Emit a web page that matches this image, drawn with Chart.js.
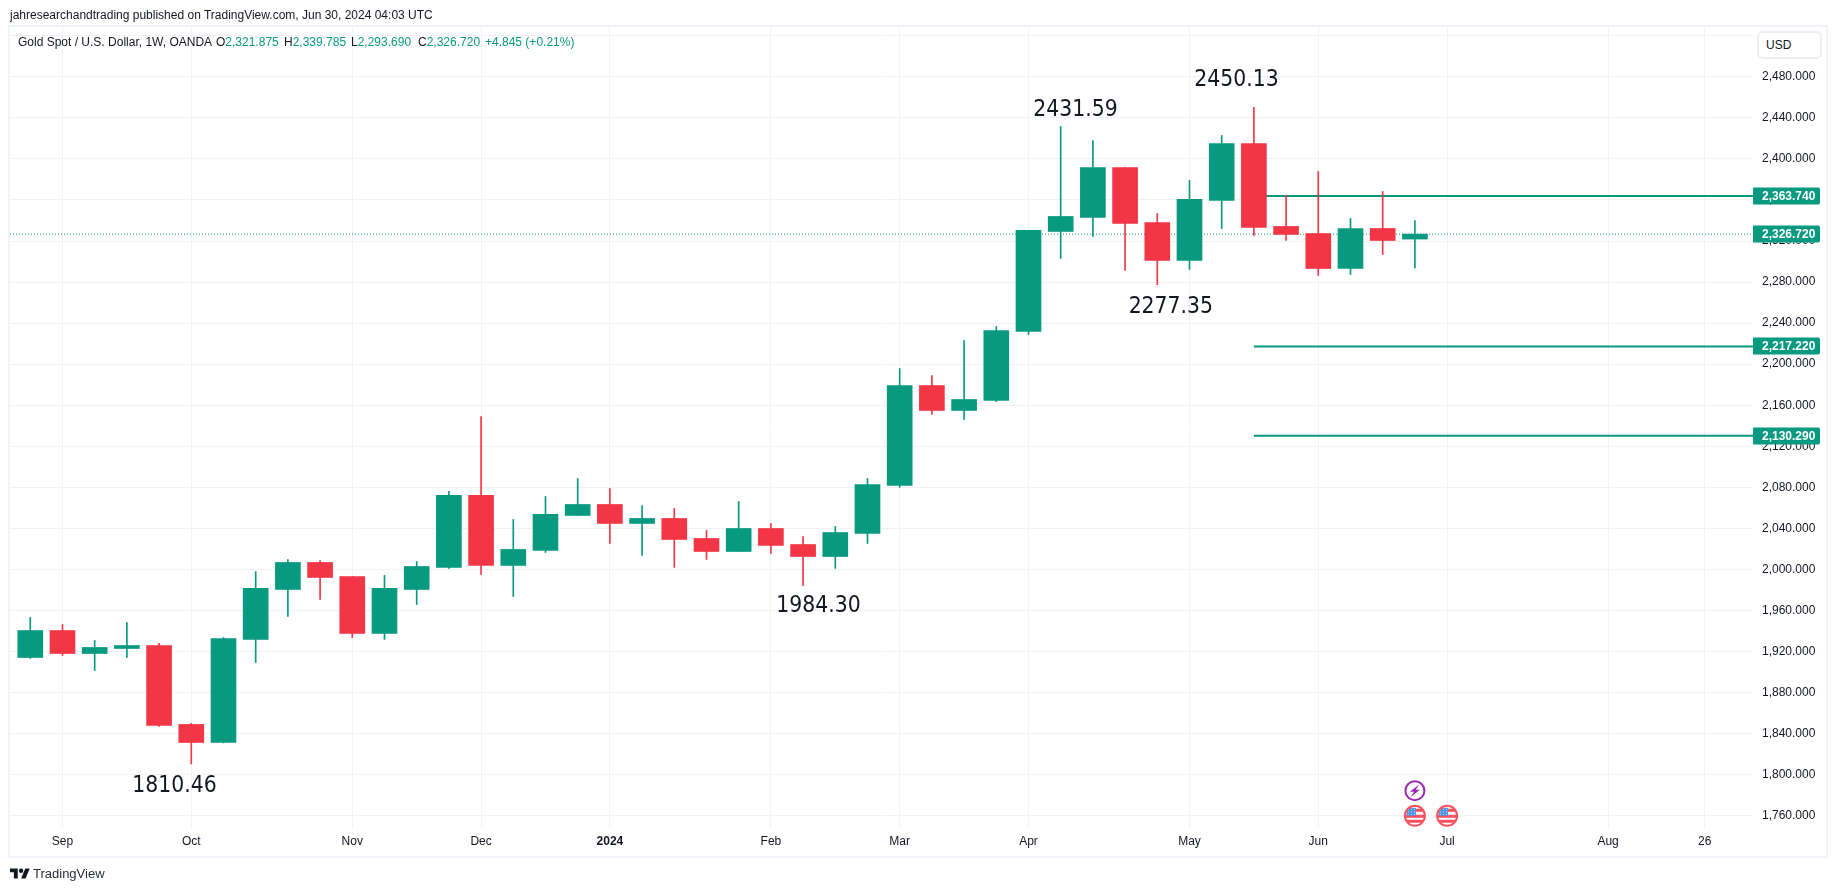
<!DOCTYPE html>
<html>
<head>
<meta charset="utf-8">
<title>Gold Spot / U.S. Dollar</title>
<script src="https://cdn.jsdelivr.net/npm/chart.js@4/dist/chart.umd.min.js"></script>
<style>
    html, body { margin: 0; padding: 0; background: #fff; width: 1835px; height: 891px; overflow: hidden; }
    body { font: 12px "Liberation Sans", sans-serif; color: #131722; position: relative; }
    #frame { position: absolute; left: 8px; top: 25px; width: 1816px; height: 829px; border: 2px solid #f0f3fa; }
    canvas { position: absolute; left: 0; top: 0; }
    .abs { position: absolute; white-space: nowrap; line-height: 14px; }
    .val { color: #089981; }
    #usd { left: 1757px; top: 31px; width: 61px; height: 24px; border: 2px solid #eceef4; border-radius: 6px; box-sizing: content-box; line-height: 24px; text-indent: 7px; background: #fff; }
    #tvname { left: 33px; top: 866px; font-size: 13px; line-height: 16px; color: #2a2e39; }
    #tvlogo { position: absolute; left: 10px; top: 866px; }
</style>
</head>
<body>
<div id="frame"></div>
<canvas id="chart" width="1835" height="891"></canvas>
<div class="abs" style="left:10px;top:8px">jahresearchandtrading published on TradingView.com, Jun 30, 2024 04:03 UTC</div>
<div class="abs" style="left:18px;top:35px">Gold Spot / U.S. Dollar, 1W, OANDA</div>
<div class="abs" style="left:216px;top:35px">O<span class="val">2,321.875</span></div>
<div class="abs" style="left:284px;top:35px">H<span class="val">2,339.785</span></div>
<div class="abs" style="left:351px;top:35px">L<span class="val">2,293.690</span></div>
<div class="abs" style="left:418px;top:35px">C<span class="val">2,326.720</span></div>
<div class="abs val" style="left:485px;top:35px">+4.845 (+0.21%)</div>
<div class="abs" id="usd">USD</div>
<svg id="tvlogo" width="20" height="16" viewBox="0 0 36 28"><path fill="#131722" d="M14 22H7V11H0V4h14v18zM28 22h-8l7.5-18h8L28 22z"/><circle fill="#131722" cx="20" cy="8" r="4"/></svg>
<div class="abs" id="tvname">TradingView</div>
<script>
// weekly candles
const opens = [1914.2, 1940.5, 1918.1, 1923.0, 1925.9, 1849.0, 1831.4, 1931.8, 1980.5, 2006.8, 1993.0, 1937.6, 1980.5, 2002.0, 2072.1, 2003.9, 2018.5, 2052.6, 2063.3, 2044.8, 2049.7, 2030.2, 2017.5, 2039.9, 2024.3, 2012.6, 2035.0, 2081.8, 2179.2, 2154.9, 2164.6, 2231.9, 2329.3, 2342.9, 2391.6, 2338.0, 2301.0, 2359.5, 2415.0, 2334.2, 2327.3, 2293.2, 2332.2, 2321.875];
const highs = [1953.2, 1946.4, 1930.8, 1948.3, 1927.9, 1850.0, 1933.7, 1998.0, 2009.7, 2008.7, 1993.2, 1994.2, 2007.8, 2076.0, 2149.0, 2048.7, 2071.1, 2088.6, 2078.9, 2062.3, 2059.4, 2038.0, 2066.2, 2044.8, 2032.1, 2041.9, 2088.6, 2195.8, 2189.0, 2223.1, 2236.7, 2330.3, 2431.59, 2417.9, 2391.6, 2346.8, 2379.0, 2422.8, 2450.13, 2364.4, 2387.7, 2341.9, 2368.2, 2339.785];
const lows = [1913.3, 1916.2, 1901.6, 1914.2, 1847.0, 1810.46, 1831.0, 1909.4, 1954.2, 1970.8, 1933.7, 1931.8, 1965.9, 2001.0, 1995.1, 1973.7, 2016.5, 2052.6, 2025.3, 2013.6, 2002.0, 2009.7, 2017.5, 2015.6, 1984.3, 2001.0, 2025.3, 2079.9, 2151.0, 2146.1, 2163.6, 2228.9, 2303.0, 2324.4, 2291.3, 2277.35, 2292.3, 2332.2, 2325.4, 2320.5, 2286.4, 2287.4, 2306.9, 2293.69];
const closes = [1940.5, 1918.1, 1924.0, 1925.9, 1848.0, 1831.4, 1932.7, 1981.5, 2006.8, 1992.2, 1937.6, 1981.5, 2002.9, 2072.1, 2003.9, 2019.5, 2053.6, 2063.3, 2044.8, 2049.7, 2029.2, 2017.5, 2039.9, 2023.4, 2012.6, 2036.0, 2082.8, 2179.2, 2154.9, 2165.6, 2232.8, 2330.3, 2343.9, 2391.6, 2337.1, 2301.0, 2360.5, 2415.0, 2333.2, 2326.4, 2293.2, 2332.2, 2320.5, 2326.72];

const timeTickWeeks = [1, 5, 10, 14, 18, 23, 27, 31, 36, 40, 44, 49, 52];
const timeTickLabels = ['Sep', 'Oct', 'Nov', 'Dec', '2024', 'Feb', 'Mar', 'Apr', 'May', 'Jun', 'Jul', 'Aug', '26'];
const priceTicks = [1760, 1800, 1840, 1880, 1920, 1960, 2000, 2040, 2080, 2120, 2160, 2200, 2240, 2280, 2320, 2360, 2400, 2440, 2480, 2520];

const lastPrice = 2326.72;
const levels = [2363.74, 2217.22, 2130.29];
const levelStartWeek = 38;

const noteTexts = ['2431.59', '2450.13', '2277.35', '1984.30', '1810.46'];
const noteWeeks = [32.46, 37.46, 35.42, 24.48, 4.48];
const notePrices = [2448, 2476.5, 2255.4, 1964.7, 1788.7];

const usEventWeeks = [43, 44];
const usEventPrice = 1760;
const splitEventWeek = 43;
const splitEventPrice = 1784.5;

const xMin = -0.63;
const xMax = 53.5;
const yMin = 1748.1;
const yMax = 2528.5;

const green = '#089981';
const red = '#f23645';
const font = '"Liberation Sans", sans-serif';
const noteFont = '22.7px "DejaVu Sans Condensed", "DejaVu Sans", sans-serif';

function formatPrice(v) {
    return v.toLocaleString('en-US', { minimumFractionDigits: 3, maximumFractionDigits: 3 });
}

function candleColors() {
    return closes.map((c, i) => c >= opens[i] ? green : red);
}

function drawFlag(ctx, x, y) {
    ctx.save();
    ctx.beginPath();
    ctx.arc(x, y, 10, 0, 2 * Math.PI);
    ctx.fillStyle = '#fff';
    ctx.fill();
    ctx.clip();
    ctx.fillStyle = '#f7525f';
    ctx.fillRect(x - 10, y - 7, 20, 3);
    ctx.fillRect(x - 10, y - 1, 20, 3);
    ctx.fillRect(x - 10, y + 4, 20, 3);
    ctx.fillStyle = '#4a90e2';
    ctx.fillRect(x - 8, y - 8, 9, 8);
    ctx.fillStyle = '#cfe3fb';
    for (let i = 0; i < 3; i++) {
        for (let j = 0; j < 3; j++) {
            ctx.fillRect(x - 7 + i * 3, y - 7 + j * 2.5, 1, 1);
        }
    }
    ctx.restore();
    ctx.beginPath();
    ctx.arc(x, y, 10, 0, 2 * Math.PI);
    ctx.strokeStyle = '#f7525f';
    ctx.lineWidth = 2;
    ctx.stroke();
}

function drawBolt(ctx, x, y) {
    ctx.beginPath();
    ctx.arc(x, y, 9.5, 0, 2 * Math.PI);
    ctx.fillStyle = '#fff';
    ctx.fill();
    ctx.strokeStyle = '#9c27b0';
    ctx.lineWidth = 2;
    ctx.stroke();
    ctx.beginPath();
    ctx.moveTo(x + 4.5, y - 6.5);
    ctx.lineTo(x - 5, y + 1);
    ctx.lineTo(x - 0.8, y + 1);
    ctx.lineTo(x - 4.5, y + 6.5);
    ctx.lineTo(x + 5, y - 1);
    ctx.lineTo(x + 0.8, y - 1);
    ctx.closePath();
    ctx.fillStyle = '#9c27b0';
    ctx.fill();
}

function drawTag(ctx, y, price, left, right) {
    ctx.beginPath();
    ctx.roundRect(left, Math.round(y) - 8.5, right - left, 17, [0, 2, 2, 0]);
    ctx.fillStyle = green;
    ctx.fill();
    ctx.fillStyle = '#fff';
    ctx.font = 'bold 12px ' + font;
    ctx.textAlign = 'left';
    ctx.textBaseline = 'middle';
    ctx.fillText(formatPrice(price), left + 9, Math.round(y) + 1);
}

const overlayPlugin = {
    id: 'overlay',
    afterDraw(chart) {
        const ctx = chart.ctx;
        const x = chart.scales.x;
        const y = chart.scales.y;

        ctx.save();
        ctx.fillStyle = '#131722';
        ctx.font = noteFont;
        ctx.textAlign = 'center';
        ctx.textBaseline = 'middle';
        noteTexts.forEach((t, i) => {
            ctx.fillText(t, x.getPixelForValue(noteWeeks[i]), y.getPixelForValue(notePrices[i]));
        });

        usEventWeeks.forEach(w => drawFlag(ctx, x.getPixelForValue(w), y.getPixelForValue(usEventPrice)));
        drawBolt(ctx, x.getPixelForValue(splitEventWeek), y.getPixelForValue(splitEventPrice));

        levels.forEach(p => drawTag(ctx, y.getPixelForValue(p), p, x.right, x.right + 67));
        drawTag(ctx, y.getPixelForValue(lastPrice), lastPrice, x.right, x.right + 67);
        ctx.restore();
    }
};

const levelDatasets = levels.map(p => ({
    type: 'line',
    data: [{ x: levelStartWeek, y: p }, { x: xMax, y: p }],
    borderColor: green,
    borderWidth: 2,
    pointRadius: 0,
    order: 5
}));

const colors = candleColors();

new Chart(document.getElementById('chart'), {
    type: 'bar',
    data: {
        datasets: [
            {
                data: opens.map((o, i) => ({ x: i, y: [o, closes[i]] })),
                backgroundColor: colors,
                barThickness: 25,
                grouped: false,
                order: 1
            },
            {
                data: lows.map((l, i) => ({ x: i, y: [l, highs[i]] })),
                backgroundColor: colors,
                barThickness: 1,
                grouped: false,
                order: 2
            },
            {
                type: 'line',
                data: [{ x: xMin, y: lastPrice }, { x: xMax, y: lastPrice }],
                borderColor: green,
                borderWidth: 1,
                borderDash: [1, 2],
                pointRadius: 0,
                order: 6
            },
            ...levelDatasets
        ]
    },
    options: {
        responsive: false,
        animation: false,
        events: [],
        layout: { padding: { left: 10, top: 27, right: 10, bottom: 35 } },
        plugins: { legend: { display: false }, tooltip: { enabled: false } },
        scales: {
            x: {
                type: 'linear',
                offset: false,
                min: xMin,
                max: xMax,
                bounds: 'data',
                border: { display: false },
                grid: { offset: false, color: '#f1f2f5', drawTicks: false },
                afterBuildTicks: scale => { scale.ticks = timeTickWeeks.map(v => ({ value: v })); },
                afterFit: scale => { scale.height = 28; },
                ticks: {
                    autoSkip: false,
                    maxRotation: 0,
                    padding: 6,
                    color: '#131722',
                    font: ctx => ({ family: font, size: 12, weight: timeTickLabels[ctx.index] === '2024' ? 'bold' : 'normal' }),
                    callback: (v, i) => timeTickLabels[i]
                }
            },
            y: {
                position: 'right',
                min: yMin,
                max: yMax,
                bounds: 'data',
                border: { display: false },
                grid: { color: '#f1f2f5', drawTicks: false },
                afterBuildTicks: scale => { scale.ticks = priceTicks.map(v => ({ value: v })); },
                afterFit: scale => { scale.width = 72; },
                ticks: {
                    autoSkip: false,
                    padding: 9,
                    color: '#131722',
                    font: { family: font, size: 12 },
                    callback: v => v === 2520 ? '' : formatPrice(v)
                }
            }
        }
    },
    plugins: [overlayPlugin]
});
</script>
</body>
</html>
